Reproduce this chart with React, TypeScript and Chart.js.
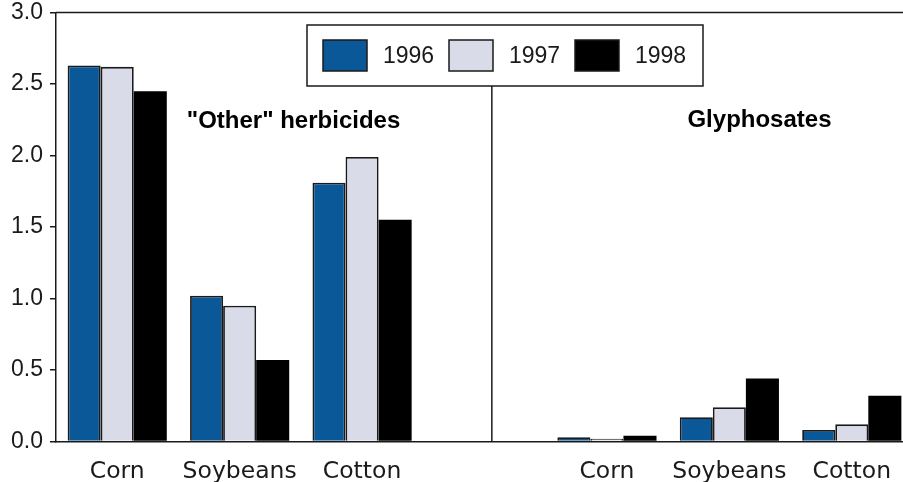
import React, { useEffect, useRef } from "react";
import { Chart, registerables } from "chart.js";

Chart.register(...registerables);

// ---- data ----
const categories = ["Corn", "Soybeans", "Cotton", "", "Corn", "Soybeans", "Cotton"];
const years = ["1996", "1997", "1998"];
const values1996 = [2.63, 1.02, 1.81, null, 0.03, 0.17, 0.08];
const values1997 = [2.62, 0.95, 1.99, null, 0.02, 0.24, 0.12];
const values1998 = [2.45, 0.57, 1.55, null, 0.04, 0.44, 0.32];
const yTicks = [0, 0.5, 1.0, 1.5, 2.0, 2.5, 3.0];
const panelTitles = ['"Other" herbicides', "Glyphosates"];
const panelTitleIndex = [1.44, 5.246];
const panelTitleValue = [2.19, 2.2];
const dividerIndex = 3.06;

const colors = ["#0a5897", "#d9dbe9", "#000000"];
const ink = "#1a1a1a";
const sans = "'Liberation Sans', Arial, sans-serif";
const labelFont = "'DejaVu Sans', sans-serif";

export default function App() {
  const ref = useRef<HTMLCanvasElement>(null);

  useEffect(() => {
    if (!ref.current) return;
    const overlay = {
      id: "overlay",
      afterDraw(chart: any) {
        const { ctx, chartArea } = chart;
        const xs = chart.scales.x;
        const ys = chart.scales.y;
        ctx.save();
        // top frame line
        ctx.strokeStyle = ink;
        ctx.lineWidth = 1.5;
        ctx.beginPath();
        ctx.moveTo(chartArea.left, chartArea.top);
        ctx.lineTo(chart.width, chartArea.top);
        ctx.stroke();

        // legend box
        const lx = 307, ly = 25, lw = 396, lh = 61;
        ctx.fillStyle = "#ffffff";
        ctx.fillRect(lx, ly, lw, lh);
        ctx.strokeRect(lx, ly, lw, lh);

        // divider
        const p3 = xs.getPixelForValue(3);
        const p4 = xs.getPixelForValue(4);
        const dx = p3 + (dividerIndex - 3) * (p4 - p3);
        ctx.beginPath();
        ctx.moveTo(dx, ly + lh);
        ctx.lineTo(dx, chartArea.bottom);
        ctx.stroke();

        // legend items
        ctx.font = `23px ${sans}`;
        ctx.textBaseline = "middle";
        ctx.textAlign = "left";
        years.forEach((yr, i) => {
          const sx = 323 + i * 126;
          ctx.fillStyle = colors[i];
          ctx.fillRect(sx, 40, 44, 31);
          ctx.strokeStyle = ink;
          ctx.lineWidth = 1.5;
          ctx.strokeRect(sx, 40, 44, 31);
          ctx.fillStyle = ink;
          ctx.fillText(yr, sx + 60, 57);
        });

        // panel titles
        ctx.font = `bold 24px ${sans}`;
        ctx.textAlign = "center";
        ctx.textBaseline = "alphabetic";
        ctx.fillStyle = "#000";
        panelTitles.forEach((t, i) => {
          ctx.fillText(t, xs.getPixelForValue(panelTitleIndex[i]), ys.getPixelForValue(panelTitleValue[i]));
        });
        ctx.restore();
      },
    };

    const datasets = [values1996, values1997, values1998].map((vals, i) => ({
      label: years[i],
      data: vals,
      backgroundColor: colors[i],
      borderColor: i === 2 ? "#000" : ink,
      borderWidth: i === 2 ? 0 : 1.8,
      categoryPercentage: 0.81,
      barPercentage: 1.0,
    }));

    const chart = new Chart(ref.current, {
      type: "bar",
      data: { labels: categories, datasets: datasets as any },
      options: {
        animation: false,
        responsive: true,
        maintainAspectRatio: false,
        layout: { padding: { top: 12.5, right: 7, left: 0, bottom: 0 } },
        plugins: { legend: { display: false }, tooltip: { enabled: false } },
        scales: {
          x: {
            grid: { display: false },
            border: { display: true, color: ink, width: 1.5 },
            ticks: {
              font: { family: labelFont, size: 23.5 },
              color: ink,
              padding: 8,
              autoSkip: false,
              maxRotation: 0,
            },
            afterFit(s: any) {
              s.height = 40.5;
              s.paddingLeft = 0;
              s.paddingRight = 0;
            },
          },
          y: {
            min: 0,
            max: 3,
            afterBuildTicks(s: any) {
              s.ticks = yTicks.map((v) => ({ value: v }));
            },
            ticks: {
              callback: (v: any) => Number(v).toFixed(1),
              font: { family: sans, size: 23 },
              color: ink,
              padding: 7,
            },
            grid: {
              drawOnChartArea: false,
              drawTicks: true,
              tickLength: 6,
              color: ink,
              lineWidth: 1.5,
            },
            border: { display: true, color: ink, width: 1.5 },
            afterFit(s: any) {
              s.width = 56;
              s.paddingTop = 0;
              s.paddingBottom = 0;
            },
          },
        },
      },
      plugins: [overlay],
    });
    return () => chart.destroy();
  }, []);

  return (
    <div
      style={{
        position: "fixed",
        left: 0,
        top: 0,
        width: 903,
        height: 482,
        overflow: "hidden",
        background: "#fff",
      }}
    >
      <div style={{ position: "relative", width: 920, height: 482 }}>
        <canvas ref={ref} />
      </div>
    </div>
  );
}
